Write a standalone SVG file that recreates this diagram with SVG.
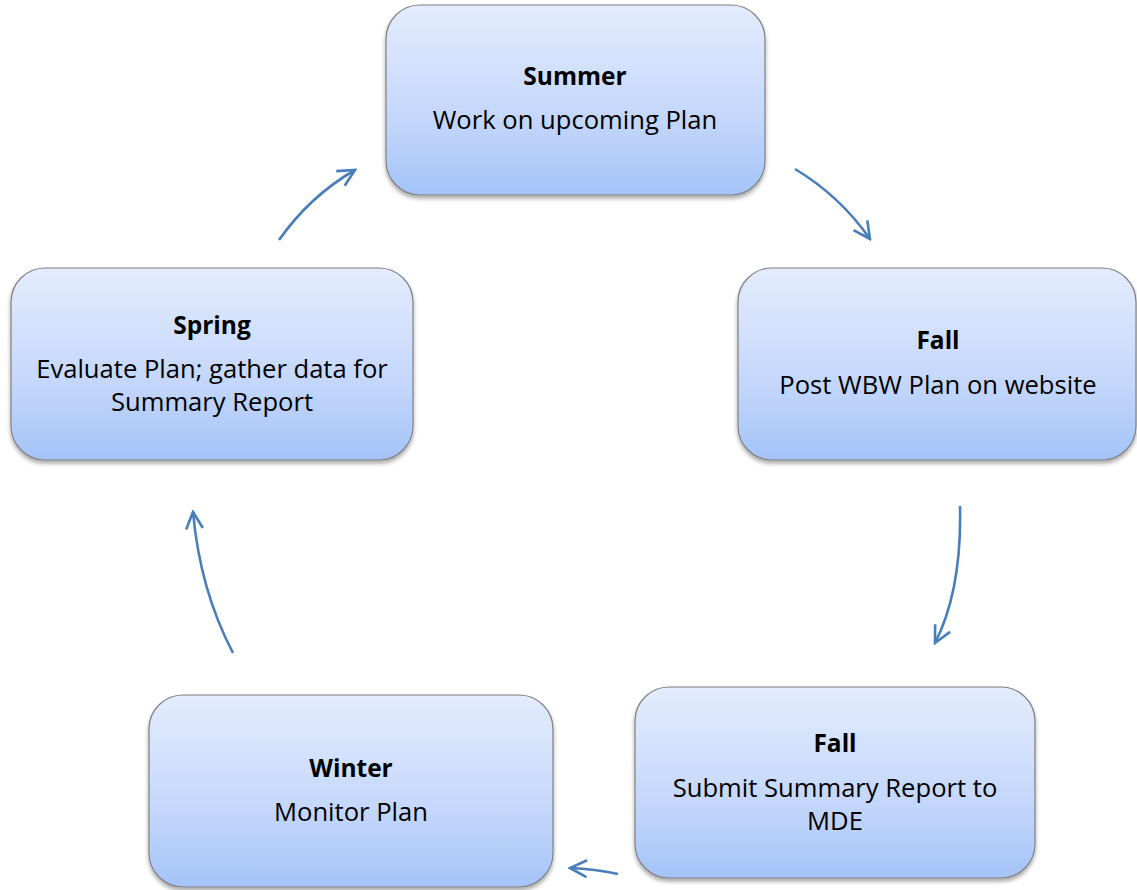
<svg xmlns="http://www.w3.org/2000/svg" width="1137" height="890" viewBox="0 0 1137 890">
<style>
.box{fill:url(#g);stroke:#808080;stroke-width:1.2;filter:url(#sh)}
.t{font-family:"Open Sans","Liberation Sans",sans-serif;font-size:25.6px;fill:#000;text-anchor:middle}
.b{font-weight:bold;font-size:24.5px}
.c{fill:none;stroke:#4A7EBB;stroke-width:2.6;marker-end:url(#ah)}
</style>
<defs>
<linearGradient id="g" x1="0" y1="0" x2="0" y2="1">
<stop offset="0" stop-color="#E3ECFD"/>
<stop offset="0.6" stop-color="#C4D7FB"/>
<stop offset="1" stop-color="#A4C3F8"/>
</linearGradient>
<filter id="sh" x="-5%" y="-5%" width="110%" height="115%">
<feDropShadow dx="0" dy="3" stdDeviation="2" flood-color="#000" flood-opacity="0.35"/>
</filter>
<marker id="ah" viewBox="0 0 20 20" refX="18" refY="10" markerWidth="21" markerHeight="21" markerUnits="userSpaceOnUse" orient="auto">
<path d="M2,2 L18,10 L2,18" fill="none" stroke="#4A7EBB" stroke-width="2.5"/>
</marker>
</defs>
<rect width="1137" height="890" fill="#fff"/>
<g id="summer">
<rect class="box" x="386" y="5" width="379" height="190" rx="34"/>
<text class="t b" x="575" y="85">Summer</text>
<text class="t" x="575" y="129">Work on upcoming Plan</text>
</g>
<g id="fall1">
<rect class="box" x="738" y="268" width="398" height="192" rx="34"/>
<text class="t b" x="938" y="349">Fall</text>
<text class="t" x="938" y="394">Post WBW Plan on website</text>
</g>
<g id="fall2">
<rect class="box" x="635" y="687" width="400" height="191" rx="34"/>
<text class="t b" x="835" y="752">Fall</text>
<text class="t" x="835" y="797">Submit Summary Report to</text>
<text class="t" x="835" y="830">MDE</text>
</g>
<g id="winter">
<rect class="box" x="149" y="695" width="404" height="192" rx="34"/>
<text class="t b" x="351" y="777">Winter</text>
<text class="t" x="351" y="821">Monitor Plan</text>
</g>
<g id="spring">
<rect class="box" x="11" y="268" width="402" height="192" rx="34"/>
<text class="t b" x="212" y="334">Spring</text>
<text class="t" x="212" y="378">Evaluate Plan; gather data for</text>
<text class="t" x="212" y="411">Summary Report</text>
</g>
<g id="connectors">
<path class="c" d="M279,240 Q310,196 355,170"/>
<path class="c" d="M795,169 Q840,196 870,239"/>
<path class="c" d="M960,506 Q962,590 935,643"/>
<path class="c" d="M618,874 Q595,869 570,868"/>
<path class="c" d="M233,653 Q200,590 193,512"/>
</g>
</svg>
